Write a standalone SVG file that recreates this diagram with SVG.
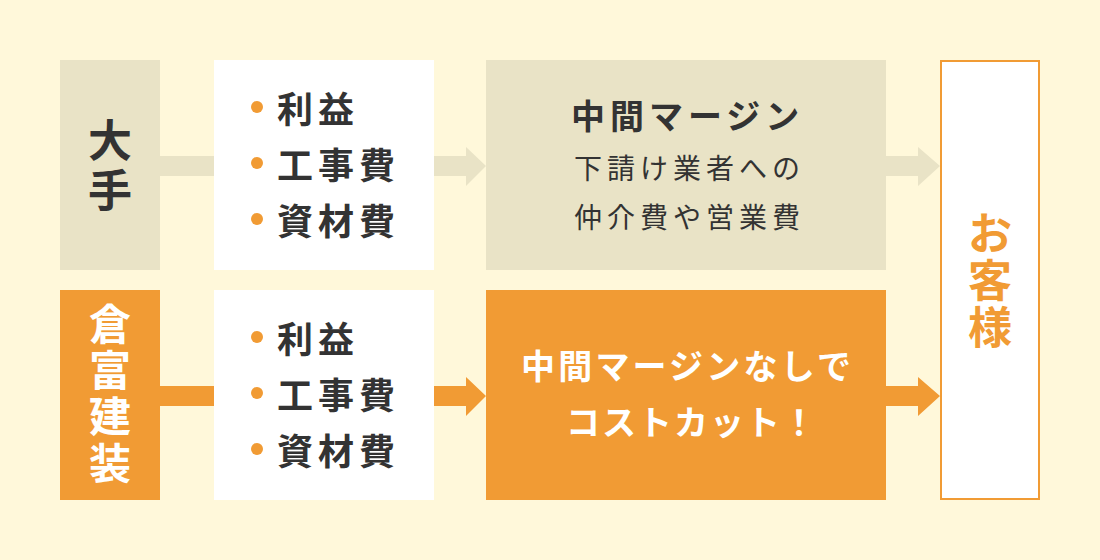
<svg xmlns="http://www.w3.org/2000/svg" width="1100" height="560" viewBox="0 0 1100 560">
<style>
.t{font-family:"Noto Sans CJK JP","Noto Sans CJK SC",sans-serif;}
.dark{fill:#333333;}
.wh{fill:#ffffff;}
.or{fill:#f19b34;}
.beige{fill:#e9e3c6;}
.b{font-weight:700;}
</style>
<rect width="1100" height="560" fill="#fff8da"/>
<g id="connectors">
  <rect x="158" y="156" width="58" height="20" class="beige"/>
  <polygon points="432,156 466,156 466,147 486,166 466,186 466,176 432,176" class="beige"/>
  <polygon points="884,156 918,156 918,147 940,166 918,186 918,176 884,176" class="beige"/>
  <rect x="158" y="386" width="58" height="20" class="or"/>
  <polygon points="432,386 466,386 466,377 486,396 466,416 466,406 432,406" class="or"/>
  <polygon points="884,386 918,386 918,377 940,396 918,416 918,406 884,406" class="or"/>
</g>
<g id="ote">
  <rect x="60" y="60" width="100" height="210" class="beige"/>
  <text class="t b dark" font-size="44" text-anchor="middle"><tspan x="110" y="157">大</tspan><tspan x="110" y="207">手</tspan></text>
</g>
<g id="ote-list">
  <rect x="214" y="60" width="220" height="210" fill="#ffffff"/>
  <circle cx="257" cy="107" r="6" class="or"/>
  <circle cx="257" cy="163" r="6" class="or"/>
  <circle cx="257" cy="219" r="6" class="or"/>
  <text class="t b dark" font-size="36" letter-spacing="5"><tspan x="277" y="123">利益</tspan><tspan x="277" y="179">工事費</tspan><tspan x="277" y="235">資材費</tspan></text>
</g>
<g id="ote-margin">
  <rect x="486" y="60" width="400" height="210" class="beige"/>
  <text class="t b dark" font-size="34" letter-spacing="5" x="571" y="129">中間マージン</text>
  <text class="t dark" font-size="28" letter-spacing="5" x="574" y="179">下請け業者への</text>
  <text class="t dark" font-size="28" letter-spacing="5" x="574" y="228">仲介費や営業費</text>
</g>
<g id="kuratomi">
  <rect x="60" y="290" width="100" height="210" class="or"/>
  <text class="t b wh" font-size="42" text-anchor="middle"><tspan x="110" y="340">倉</tspan><tspan x="110" y="386">富</tspan><tspan x="110" y="432">建</tspan><tspan x="110" y="479">装</tspan></text>
</g>
<g id="kuratomi-list">
  <rect x="214" y="290" width="220" height="210" fill="#ffffff"/>
  <circle cx="257" cy="337" r="6" class="or"/>
  <circle cx="257" cy="393" r="6" class="or"/>
  <circle cx="257" cy="449" r="6" class="or"/>
  <text class="t b dark" font-size="36" letter-spacing="5"><tspan x="277" y="353">利益</tspan><tspan x="277" y="409">工事費</tspan><tspan x="277" y="465">資材費</tspan></text>
</g>
<g id="kuratomi-margin">
  <rect x="486" y="290" width="400" height="210" class="or"/>
  <text class="t b wh" font-size="34" letter-spacing="3.2" x="521" y="379">中間マージンなしで</text>
  <text class="t b wh" font-size="34" letter-spacing="2" x="566" y="435">コストカット！</text>
</g>
<g id="customer">
  <rect x="941" y="61" width="98" height="438" fill="#ffffff" stroke="#f19b34" stroke-width="2"/>
  <text class="t b or" font-size="44" text-anchor="middle"><tspan x="990" y="250">お</tspan><tspan x="990" y="297">客</tspan><tspan x="990" y="344">様</tspan></text>
</g>
</svg>
